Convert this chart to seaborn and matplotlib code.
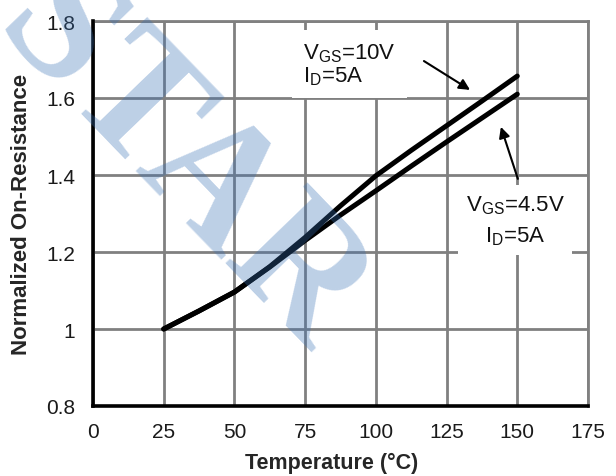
import matplotlib
matplotlib.use("Agg")
import matplotlib.pyplot as plt
import numpy as np
import pandas as pd
import seaborn as sns

# ---- data ----
temperature = [25, 37.5, 50, 62.5, 75, 87.5, 100, 112.5, 125, 137.5, 150]
r_vgs10 = [1.0, 1.047, 1.096, 1.162, 1.238, 1.320, 1.398, 1.464, 1.528, 1.592, 1.657]
r_vgs45 = [1.0, 1.047, 1.096, 1.161, 1.230, 1.296, 1.359, 1.423, 1.486, 1.548, 1.610]
series_names = ["VGS=10V", "VGS=4.5V"]
x_ticks = [0, 25, 50, 75, 100, 125, 150, 175]
y_ticks = [0.8, 1.0, 1.2, 1.4, 1.6, 1.8]
y_tick_labels = ["0.8", "1", "1.2", "1.4", "1.6", "1.8"]
x_label = "Temperature (\u00b0C)"
y_label = "Normalized On-Resistance"
label_10v = "V$_{\\mathrm{GS}}$=10V\nI$_{\\mathrm{D}}$=5A"
label_45v = "V$_{\\mathrm{GS}}$=4.5V\nI$_{\\mathrm{D}}$=5A"
watermark = "STAR"

sns.set_theme(style="white")
plt.rcParams["font.family"] = ["Liberation Sans", "DejaVu Sans"]
plt.rcParams["mathtext.fontset"] = "custom"
plt.rcParams["mathtext.rm"] = "Liberation Sans"
plt.rcParams["mathtext.it"] = "Liberation Sans:italic"
plt.rcParams["mathtext.bf"] = "Liberation Sans:bold"

df = pd.DataFrame({
    "Temperature": temperature * 2,
    "R": r_vgs10 + r_vgs45,
    "series": [series_names[0]] * len(temperature) + [series_names[1]] * len(temperature),
})

fig = plt.figure(figsize=(6.16, 4.77), dpi=100)
ax = fig.add_axes([93 / 616, 1 - 407 / 477, 495 / 616, 385 / 477])

sns.lineplot(data=df, x="Temperature", y="R", hue="series",
             palette=["black", "black"], linewidth=3.6, legend=False,
             ax=ax, zorder=3)

ax.set_xlim(0, 175)
ax.set_ylim(0.8, 1.8)
ax.set_xticks(x_ticks)
ax.set_yticks(y_ticks)
ax.set_yticklabels(y_tick_labels)
ax.grid(True, color="#808080", linewidth=2.0)
ax.set_axisbelow(True)
ax.tick_params(axis="both", length=0, labelsize=15, labelcolor="#1a1a1a")
ax.tick_params(axis="x", pad=11.5)
ax.tick_params(axis="y", pad=13)

for side in ["top", "right"]:
    ax.spines[side].set_color("#808080")
    ax.spines[side].set_linewidth(2.0)
for side in ["left", "bottom"]:
    ax.spines[side].set_color("black")
    ax.spines[side].set_linewidth(2.6)
    ax.spines[side].set_zorder(4)

ax.set_xlabel(x_label, fontsize=15.5, fontweight="bold", va="center")
ax.xaxis.set_label_coords(0.483, -0.1455)
ax.set_ylabel(y_label, fontsize=16, fontweight="bold", va="center")
ax.yaxis.set_label_coords(-0.1444, 0.5)

ax.text(74.2, 1.748, label_10v, fontsize=16, ha="left", va="top",
        linespacing=1.05, color="#111111", zorder=4,
        bbox=dict(boxstyle="square,pad=0.5", fc="white", ec="none"))
ax.text(131.8, 1.353, label_45v, fontsize=16, ha="left", va="top",
        linespacing=1.5, multialignment="center", color="#111111", zorder=4,
        bbox=dict(boxstyle="square,pad=0.35", fc="white", ec="none"))

arrow_kw = dict(arrowstyle="-|>", color="black", lw=1.5, mutation_scale=16,
                shrinkA=0, shrinkB=0)
ax.annotate("", xy=(133.3, 1.621), xytext=(117, 1.696), arrowprops=arrow_kw, zorder=5)
ax.annotate("", xy=(144.2, 1.525), xytext=(150.2, 1.39), arrowprops=arrow_kw, zorder=5)

# faint watermark over the chart
fig.text(150 / 616, 1 - 195 / 477, watermark, rotation=-46, fontsize=126,
         family="Liberation Serif", fontweight="bold", color="#3770B5", alpha=0.33,
         ha="center", va="baseline", rotation_mode="anchor", zorder=10)

fig.savefig("out.png", dpi=100, facecolor="white")
